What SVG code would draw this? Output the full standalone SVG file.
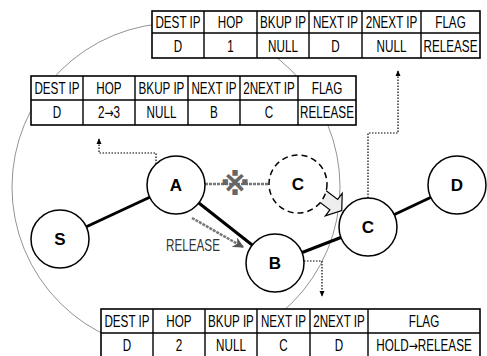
<svg xmlns="http://www.w3.org/2000/svg" width="487" height="356" viewBox="0 0 487 356">
<defs>
<style>
.tb rect{fill:#fff;stroke:#000;stroke-width:1.6}
.tb line{stroke:#000;stroke-width:1.4}
.n{font-family:"Liberation Sans",Arial,sans-serif;font-size:16px;text-anchor:middle;fill:#000;transform-box:fill-box;transform-origin:center;transform:scaleX(0.73)}
.ar{font-family:"DejaVu Sans",sans-serif;font-size:15px}
.node circle{fill:#fff;stroke:#000;stroke-width:1.5}
.node text{font-family:"Liberation Sans",Arial,sans-serif;font-size:17px;font-weight:bold;text-anchor:middle;fill:#000}
.edge{stroke:#000;stroke-width:3;fill:none}
.dot{stroke:#000;stroke-width:1.2;stroke-dasharray:1.5 1.5;fill:none}
</style>
<marker id="ah" viewBox="0 0 8 8" refX="7" refY="4" markerWidth="6" markerHeight="6" markerUnits="userSpaceOnUse" orient="auto"><path d="M0,0.5 L8,4 L0,7.5 Z" fill="#000"/></marker>
<marker id="gh" viewBox="0 0 10 10" refX="9" refY="5" markerWidth="11" markerHeight="11" markerUnits="userSpaceOnUse" orient="auto"><path d="M0,0 L10,5 L0,10 L3,5 Z" fill="#555"/></marker>
</defs>
<rect width="487" height="356" fill="#fff"/>
<circle cx="176" cy="187" r="164" fill="none" stroke="#777" stroke-width="0.8"/>
<g id="connectors">
<line class="edge" x1="60" y1="239" x2="176" y2="185"/>
<line class="edge" x1="176" y1="185" x2="275" y2="263"/>
<line class="edge" x1="275" y1="263" x2="368" y2="227" stroke-width="2.5"/>
<line class="edge" x1="368" y1="227" x2="457" y2="185"/>
<line x1="205" y1="184" x2="269" y2="184" stroke="#777" stroke-width="2.5" stroke-dasharray="3 1"/>
<text x="235" y="195" font-family="'DejaVu Sans','Noto Sans CJK JP',sans-serif" font-size="30" font-weight="bold" text-anchor="middle" fill="#666">※</text>
<line x1="192" y1="218" x2="243" y2="247" stroke="#777" stroke-width="2.5" stroke-dasharray="3 1" marker-end="url(#gh)"/>
<text class="n" x="193" y="251" style="fill:#333">RELEASE</text>
<path class="dot" d="M156,164 V153 H99 V139" marker-end="url(#ah)"/>
<path class="dot" d="M368,198 V133 H398 V71" marker-end="url(#ah)"/>
<path class="dot" d="M304,261 H322 V296" marker-end="url(#ah)"/>
<path d="M0,-6.5 H16 V-14 L26,0 L16,14 V6.5 H0 Z" transform="translate(321,195) rotate(37)" fill="#eee" stroke="#000" stroke-width="1.2"/>
</g>
<g id="node-S" class="node"><circle cx="60" cy="239" r="29"/><text x="60" y="245">S</text></g>
<g id="node-A" class="node"><circle cx="176" cy="185" r="29"/><text x="176" y="191">A</text></g>
<g id="node-Cold" class="node"><circle cx="298" cy="184" r="29" stroke-dasharray="6 4"/><text x="298" y="190">C</text></g>
<g id="node-B" class="node"><circle cx="275" cy="263" r="29"/><text x="275" y="269">B</text></g>
<g id="node-C" class="node"><circle cx="368" cy="227" r="29"/><text x="368" y="233">C</text></g>
<g id="node-D" class="node"><circle cx="457" cy="185" r="29"/><text x="457" y="191">D</text></g>
<g id="table-top" class="tb">
<rect x="152" y="11" width="328" height="47"/>
<line x1="152" y1="33" x2="480" y2="33"/>
<line x1="204" y1="11" x2="204" y2="58"/><line x1="257" y1="11" x2="257" y2="58"/><line x1="309" y1="11" x2="309" y2="58"/><line x1="362" y1="11" x2="362" y2="58"/><line x1="421" y1="11" x2="421" y2="58"/>
<text class="n" x="178" y="28">DEST IP</text><text class="n" x="230.5" y="28">HOP</text><text class="n" x="283" y="28">BKUP IP</text><text class="n" x="335.5" y="28">NEXT IP</text><text class="n" x="391.5" y="28">2NEXT IP</text><text class="n" x="450.5" y="28">FLAG</text>
<text class="n" x="178" y="52">D</text><text class="n" x="230.5" y="52">1</text><text class="n" x="283" y="52">NULL</text><text class="n" x="335.5" y="52">D</text><text class="n" x="391.5" y="52">NULL</text><text class="n" x="450.5" y="52">RELEASE</text>
</g>
<g id="table-mid" class="tb">
<rect x="31" y="76" width="325" height="49"/>
<line x1="31" y1="100" x2="356" y2="100"/>
<line x1="83" y1="76" x2="83" y2="125"/><line x1="135" y1="76" x2="135" y2="125"/><line x1="188" y1="76" x2="188" y2="125"/><line x1="240" y1="76" x2="240" y2="125"/><line x1="298" y1="76" x2="298" y2="125"/>
<text class="n" x="57" y="94">DEST IP</text><text class="n" x="109" y="94">HOP</text><text class="n" x="161.5" y="94">BKUP IP</text><text class="n" x="214" y="94">NEXT IP</text><text class="n" x="269" y="94">2NEXT IP</text><text class="n" x="327" y="94">FLAG</text>
<text class="n" x="57" y="118">D</text><text class="n" x="109" y="118">2<tspan class="ar">→</tspan>3</text><text class="n" x="161.5" y="118">NULL</text><text class="n" x="214" y="118">B</text><text class="n" x="269" y="118">C</text><text class="n" x="327" y="118">RELEASE</text>
</g>
<g id="table-bottom" class="tb">
<rect x="101" y="309" width="379" height="52"/>
<line x1="101" y1="333" x2="480" y2="333"/>
<line x1="153" y1="309" x2="153" y2="361"/><line x1="205" y1="309" x2="205" y2="361"/><line x1="257" y1="309" x2="257" y2="361"/><line x1="310" y1="309" x2="310" y2="361"/><line x1="368" y1="309" x2="368" y2="361"/>
<text class="n" x="127" y="327">DEST IP</text><text class="n" x="179" y="327">HOP</text><text class="n" x="231" y="327">BKUP IP</text><text class="n" x="283.5" y="327">NEXT IP</text><text class="n" x="339" y="327">2NEXT IP</text><text class="n" x="424" y="327">FLAG</text>
<text class="n" x="127" y="351">D</text><text class="n" x="179" y="351">2</text><text class="n" x="231" y="351">NULL</text><text class="n" x="283.5" y="351">C</text><text class="n" x="339" y="351">D</text><text class="n" x="424" y="351">HOLD<tspan class="ar">→</tspan>RELEASE</text>
</g>
</svg>
